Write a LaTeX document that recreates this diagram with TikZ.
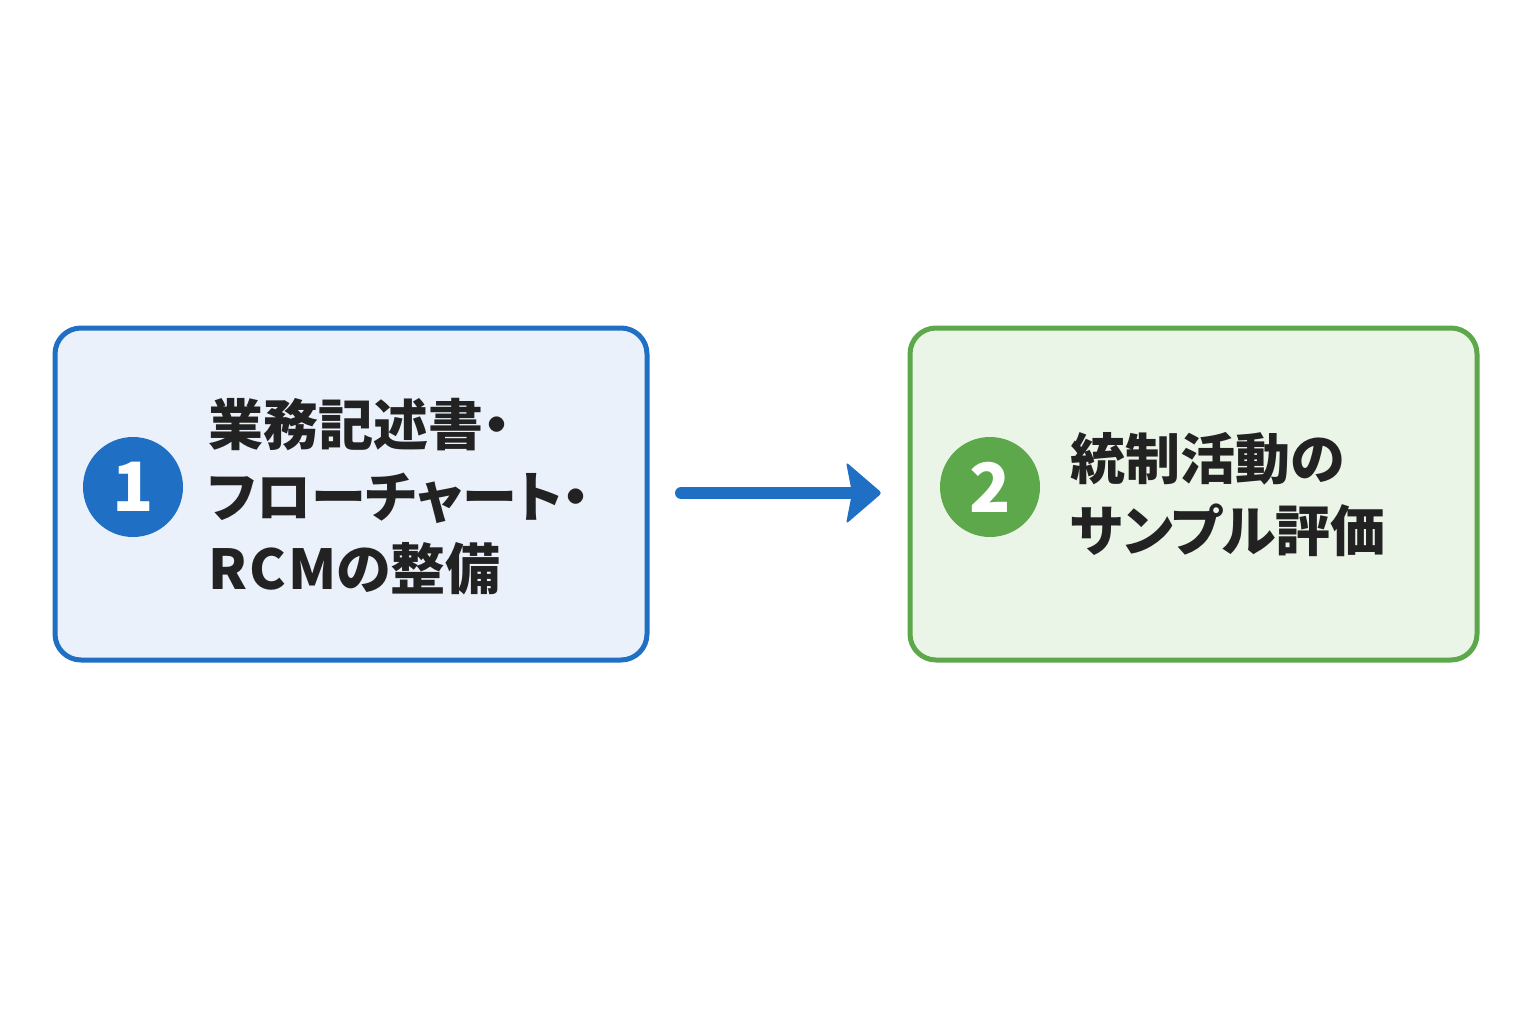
\documentclass[tikz,border=0pt]{standalone}
\usepackage{fontspec}
\setmainfont{Noto Sans CJK JP}[RawFeature=+palt]
\usetikzlibrary{arrows.meta}
\definecolor{bblue}{HTML}{1F6FC5}
\definecolor{bbluefill}{HTML}{EAF1FA}
\definecolor{ggreen}{HTML}{5DA84A}
\definecolor{ggreenfill}{HTML}{EBF5E7}
\definecolor{txt}{HTML}{222222}
\tikzset{
  box/.style={draw, rounded corners=26pt, line width=5pt, inner sep=0pt},
  badge/.style={circle, minimum size=100pt, inner sep=0pt, text=white, font=\fontsize{68}{68}\selectfont\bfseries},
  label/.style={anchor=west, align=left, inner sep=0pt, text=txt, font=\fontsize{55}{72}\selectfont\bfseries}
}
\begin{document}
\begin{tikzpicture}[x=1pt,y=-1pt]
\useasboundingbox[fill=white] (0,0) rectangle (1536,1024);
\node[box, color=bblue, fill=bbluefill, minimum width=592pt, minimum height=332pt] (b1) at (351,494) {};
\node[box, color=ggreen, fill=ggreenfill, minimum width=567pt, minimum height=332pt] (b2) at (1193.5,494) {};
\node[badge, fill=bblue] (c1) at (133,487) {1};
\node[badge, fill=ggreen] (c2) at (990,487) {2};
\node[label] (t1) at (208,497) {業務記述書・\\フローチャート・\\{\addfontfeature{LetterSpace=4}RCM}の整備};
\node[label] (t2) at (1070,495) {統制活動の\\サンプル評価};
\coordinate (a0) at (681,493);
\coordinate (a1) at (852,493);
\draw[bblue, line width=12pt, line cap=round] (a0) -- (a1);
\fill[bblue, rounded corners=3pt] (846,462) -- (882,493) -- (846,524) -- (852,493) -- cycle;
\end{tikzpicture}
\end{document}
